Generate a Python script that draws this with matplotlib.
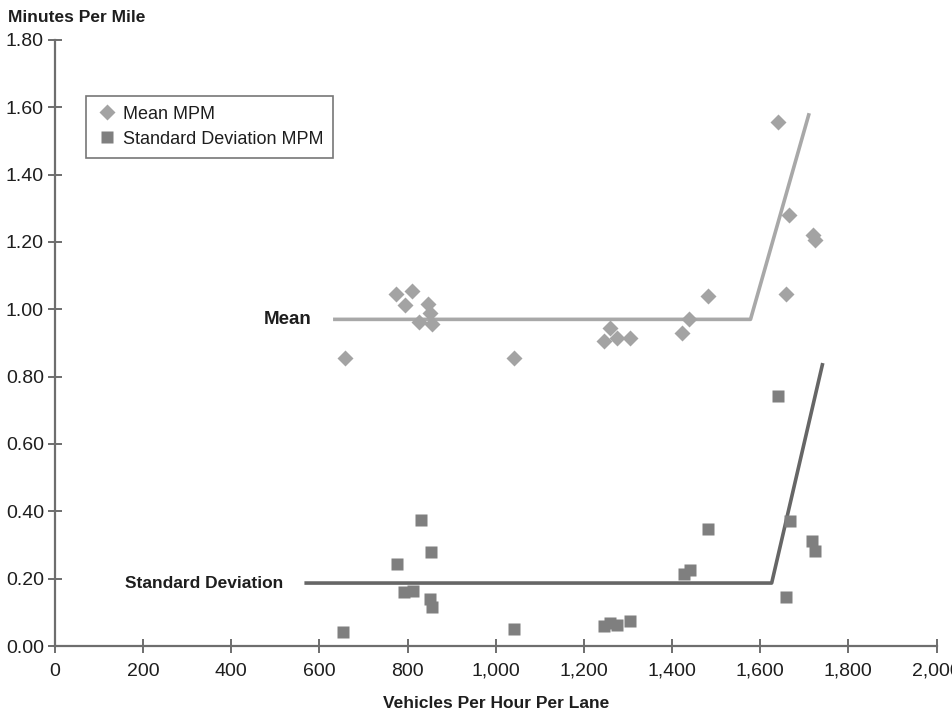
import matplotlib
matplotlib.use("Agg")
import matplotlib.pyplot as plt
from matplotlib.ticker import FuncFormatter, MultipleLocator

plt.rcParams['font.family'] = ['Liberation Sans Narrow', 'Liberation Sans', 'DejaVu Sans']

# data
mean_x = [657, 773, 795, 811, 825, 847, 851, 855, 1041, 1245, 1259, 1275, 1305,
          1423, 1438, 1482, 1640, 1658, 1665, 1719, 1725]
mean_y = [0.855, 1.045, 1.013, 1.054, 0.962, 1.016, 0.990, 0.956, 0.855, 0.906, 0.944,
          0.914, 0.914, 0.930, 0.971, 1.040, 1.556, 1.045, 1.280, 1.220, 1.205]

sd_x = [654, 777, 791, 813, 830, 850, 853, 855, 1041, 1245, 1259, 1275, 1305,
        1427, 1441, 1482, 1640, 1658, 1667, 1718, 1725]
sd_y = [0.042, 0.244, 0.160, 0.163, 0.374, 0.140, 0.279, 0.116, 0.050, 0.059, 0.068,
        0.062, 0.074, 0.214, 0.226, 0.347, 0.742, 0.146, 0.371, 0.312, 0.282]

# fitted trend lines (flat, then a steep rise)
mean_line_x = [635, 1578, 1710]
mean_line_y = [0.970, 0.970, 1.577]
sd_line_x = [570, 1626, 1741]
sd_line_y = [0.187, 0.187, 0.835]

light = "#a3a3a3"
dark = "#7f7f7f"
axis_col = "#6e6e6e"
text_col = "#1e1e1e"

fig = plt.figure(figsize=(9.53, 7.14), dpi=100)
ax = fig.add_axes([0.0577, 0.0952, 0.925, 0.849])

ax.plot(mean_line_x, mean_line_y, color="#a8a8a8", lw=2.6, zorder=2)
ax.plot(sd_line_x, sd_line_y, color="#666666", lw=2.6, zorder=2)

ax.plot(mean_x, mean_y, "D", color=light, ms=8.5, mec="none", label="Mean MPM", zorder=3)
ax.plot(sd_x, sd_y, "s", color=dark, ms=8.5, mec="none", label="Standard Deviation MPM", zorder=3)

ax.text(583, 0.970, "Mean", ha="right", va="center", fontsize=13.5,
        fontweight="bold", color=text_col)
ax.text(517, 0.187, "Standard Deviation", ha="right", va="center", fontsize=12.5,
        fontweight="bold", color=text_col)

ax.set_xlim(0, 2000)
ax.set_ylim(0, 1.8)
ax.xaxis.set_major_locator(MultipleLocator(200))
ax.yaxis.set_major_locator(MultipleLocator(0.2))
ax.xaxis.set_major_formatter(FuncFormatter(lambda v, p: f"{v:,.0f}"))
ax.yaxis.set_major_formatter(FuncFormatter(lambda v, p: f"{v:.2f}"))

for s in ["top", "right"]:
    ax.spines[s].set_visible(False)
for s in ["left", "bottom"]:
    ax.spines[s].set_color(axis_col)
    ax.spines[s].set_linewidth(1.6)
ax.tick_params(direction="inout", length=10, width=1.4, color=axis_col,
               labelsize=14, labelcolor=text_col, pad=3)
ax.tick_params(axis="x", pad=7)

ax.set_xlabel("Vehicles Per Hour Per Lane", fontsize=12.5, fontweight="bold",
              color=text_col, labelpad=12)
fig.text(0.008, 0.975, "Minutes Per Mile", fontsize=12.5, fontweight="bold",
         color=text_col, ha="left", va="center")

leg = ax.legend(loc="upper left", bbox_to_anchor=(0.035, 0.908), borderaxespad=0,
                fontsize=13, frameon=True, fancybox=False, handletextpad=0.3,
                handlelength=1.2, labelspacing=0.45, borderpad=0.55)
leg.get_frame().set_edgecolor("#555555")
leg.get_frame().set_linewidth(1.2)
for t in leg.get_texts():
    t.set_color(text_col)

fig.savefig("out.png", dpi=100)
